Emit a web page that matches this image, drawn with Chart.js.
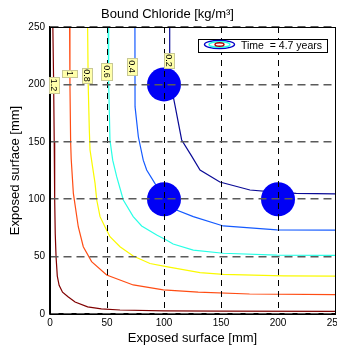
<!DOCTYPE html>
<html>
<head>
<meta charset="utf-8">
<script src="https://cdn.jsdelivr.net/npm/chart.js@4.4.0/dist/chart.umd.min.js"></script>
<style>
body { margin: 0; background: #fff; }
</style>
</head>
<body>
<canvas id="myChart" width="337" height="351"></canvas>
<script>
// contour levels (bound chloride, kg/m3) and their colours
var levels = ['1.2', '1', '0.8', '0.6', '0.4', '0.2'];
var levelColors = ['rgb(128,0,0)', 'rgb(255,77,20)', 'rgb(250,250,0)', 'rgb(40,255,230)', 'rgb(20,90,255)', 'rgb(10,10,150)'];

// contour lines, in mm
var c12_x = [2.5, 3.2, 3.7, 4.1, 4.6, 5.3, 6.4, 8, 11, 15.8, 22, 33, 45, 61.4, 100, 150, 250];
var c12_y = [250, 200, 150, 100, 70, 50, 33, 25, 19, 15, 10.5, 6.2, 4.5, 3.5, 2.8, 2.5, 2.3];

var c10_x = [17.2, 17.5, 18.1, 18.6, 20.5, 24.8, 29.2, 36.5, 49.7, 73, 99.4, 130, 175, 250];
var c10_y = [250, 200, 150, 135, 105, 76, 58.6, 45.6, 34, 25.3, 21, 19, 17.4, 16.8];

var c08_x = [33, 33.5, 34.5, 35.1, 39.5, 41, 43.9, 48.2, 52.6, 61.4, 73, 87.7, 102, 131.6, 152, 204.7, 250];
var c08_y = [250, 200, 160, 143, 114, 99.3, 84.8, 76, 67.3, 58.6, 50.5, 44, 41.2, 36, 34.5, 33.2, 33];

var c06_x = [51, 51.5, 52.6, 55, 58.5, 64.3, 73, 80.4, 93.6, 102, 108, 125.7, 152, 199, 250];
var c06_y = [250, 200, 151.6, 134, 119.6, 99.3, 84.8, 76.7, 68.8, 64.5, 61, 55.7, 52.9, 51.2, 51];

var c04_x = [74.5, 74.6, 77.5, 81.8, 84.8, 92, 100, 111, 125.7, 152, 199, 250];
var c04_y = [250, 180.6, 154.4, 134, 125.4, 113.8, 104, 90.6, 84.8, 76.7, 73.2, 73];

var c02_x = [105, 105, 107, 109.6, 115.5, 124, 131.6, 149, 175.4, 200, 216, 250];
var c02_y = [250, 215, 195, 182, 151.6, 138, 125.4, 115, 108, 106, 105, 104.7];

// sensor positions (big blue dots)
var sensor_x = [100, 100, 200];
var sensor_y = [200, 100, 100];

// where the contour labels sit (data coords)
var label_x = [3.5, 17.1, 32.5, 49.6, 71.9, 104.4];
var label_y = [199.5, 209.5, 207.8, 211.2, 215.6, 220.8];

var axisTicks = [0, 50, 100, 150, 200, 250];
var legendText = 'Time  = 4.7 years';

// label box sizes in px (style only)
var labelBoxW = [10, 15, 10, 11, 10, 10];
var labelBoxH = [16, 7, 15, 17, 17, 15];

function toPoints(xs, ys) {
    var pts = [];
    for (var i = 0; i < xs.length; i++) {
        pts.push({x: xs[i], y: ys[i]});
    }
    return pts;
}

var curves = [[c12_x, c12_y], [c10_x, c10_y], [c08_x, c08_y], [c06_x, c06_y], [c04_x, c04_y], [c02_x, c02_y]];

var datasets = [{
    label: 'sensors',
    data: toPoints(sensor_x, sensor_y),
    showLine: false,
    pointRadius: 17,
    pointHoverRadius: 17,
    backgroundColor: 'rgb(0,0,245)',
    borderWidth: 0,
    order: 0
}];
for (var k = 0; k < curves.length; k++) {
    datasets.push({
        label: levels[k],
        data: toPoints(curves[k][0], curves[k][1]),
        showLine: true,
        pointRadius: 0,
        borderColor: levelColors[k],
        borderWidth: 1.2,
        tension: 0,
        order: 1
    });
}

Chart.defaults.font.family = '"Liberation Sans", Arial, sans-serif';
Chart.defaults.color = '#000';

const extras = {
    id: 'extras',
    afterDraw: function(chart) {
        const ctx = chart.ctx;
        const a = chart.chartArea;
        const xs = chart.scales.x;
        const ys = chart.scales.y;
        ctx.save();

        // box around the axes
        ctx.strokeStyle = '#000';
        ctx.lineWidth = 1;
        ctx.strokeRect(a.left + 0.5, a.top + 0.5, a.right - a.left, a.bottom - a.top);

        // contour labels
        ctx.font = '9px "Liberation Sans", Arial, sans-serif';
        for (var i = 0; i < levels.length; i++) {
            var px = xs.getPixelForValue(label_x[i]);
            var py = ys.getPixelForValue(label_y[i]);
            var w = labelBoxW[i], h = labelBoxH[i];
            ctx.fillStyle = 'rgb(255,255,170)';
            ctx.fillRect(px - w / 2, py - h / 2, w, h);
            ctx.strokeStyle = 'rgb(200,200,150)';
            ctx.lineWidth = 1;
            ctx.strokeRect(Math.round(px - w / 2) + 0.5, Math.round(py - h / 2) + 0.5, w, h);
            ctx.save();
            ctx.translate(px, py);
            ctx.rotate(Math.PI / 2);
            ctx.fillStyle = '#000';
            ctx.textAlign = 'center';
            ctx.textBaseline = 'middle';
            ctx.fillText(levels[i], 0, 0.5);
            ctx.restore();
        }

        // legend box
        ctx.fillStyle = '#fff';
        ctx.fillRect(198, 39, 129, 13);
        ctx.strokeStyle = '#000';
        ctx.lineWidth = 1;
        ctx.strokeRect(198.5, 39.5, 129, 13);
        var lx = 219.5, ly = 44.5;
        var rings = [[15, 4, 'rgb(0,0,200)'], [10.5, 2.8, 'rgb(40,255,230)'], [4.5, 1.8, 'rgb(170,0,0)']];
        for (var r = 0; r < rings.length; r++) {
            ctx.beginPath();
            ctx.ellipse(lx, ly, rings[r][0], rings[r][1], 0, 0, Math.PI * 2);
            ctx.strokeStyle = rings[r][2];
            ctx.lineWidth = 1.4;
            ctx.stroke();
        }
        ctx.fillStyle = '#000';
        ctx.font = '10.5px "Liberation Sans", Arial, sans-serif';
        ctx.textAlign = 'left';
        ctx.textBaseline = 'middle';
        ctx.fillText(legendText, 241, 46);
        ctx.restore();
    }
};

const ctx = document.getElementById('myChart').getContext('2d');
const myChart = new Chart(ctx, {
    type: 'scatter',
    data: { datasets: datasets },
    plugins: [extras],
    options: {
        responsive: false,
        animation: false,
        layout: { autoPadding: false, padding: { right: 2 } },
        plugins: {
            legend: { display: false },
            tooltip: { enabled: false },
            title: {
                display: true,
                text: 'Bound Chloride [kg/m³]',
                font: { size: 13, weight: 'normal' },
                color: '#000',
                padding: { top: 7, bottom: 4.4 }
            }
        },
        scales: {
            x: {
                type: 'linear',
                min: 0,
                max: 250,
                afterBuildTicks: function(scale) {
                    scale.ticks = axisTicks.map(function(v) { return {value: v}; });
                },
                afterFit: function(scale) {
                    scale.height = 37;
                    scale.paddingLeft = 0;
                    scale.paddingRight = 0;
                },
                ticks: { font: { size: 10 }, padding: 3, maxRotation: 0, color: '#000' },
                grid: { color: '#000', lineWidth: 1, drawTicks: false, z: 1 },
                border: { color: '#000', width: 1.5, dash: [6, 5], z: 1 },
                title: {
                    display: true,
                    text: 'Exposed surface [mm]',
                    font: { size: 13 },
                    color: '#000',
                    padding: { top: 0, bottom: 5 }
                }
            },
            y: {
                type: 'linear',
                min: 0,
                max: 250,
                afterBuildTicks: function(scale) {
                    scale.ticks = axisTicks.map(function(v) { return {value: v}; });
                },
                afterFit: function(scale) {
                    scale.width = 50;
                },
                ticks: { font: { size: 10 }, padding: 5, color: '#000' },
                grid: { color: '#5a5a5a', lineWidth: 1.6, drawTicks: false, z: 1 },
                border: { color: '#000', width: 1.5, dash: [8, 5], z: 1 },
                title: {
                    display: true,
                    text: 'Exposed surface [mm]',
                    font: { size: 13 },
                    color: '#000',
                    padding: { top: 7.5, bottom: 0 }
                }
            }
        }
    }
});
</script>
</body>
</html>
